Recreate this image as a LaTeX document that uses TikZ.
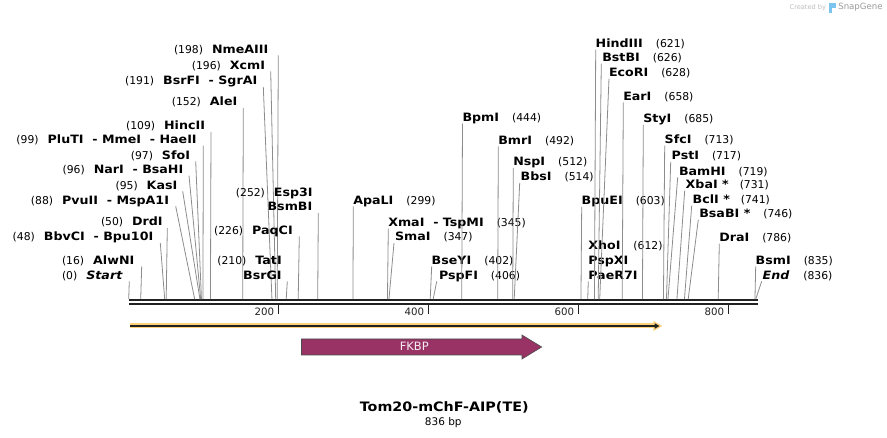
\documentclass[tikz,border=0pt]{standalone}
\usepackage{fontspec}
\setmainfont{DejaVu Sans}
\newfontfamily\enzfont[FakeStretch=1.1]{DejaVu Sans}
\usetikzlibrary{arrows.meta}

\definecolor{cutgray}{HTML}{8C8C8C}
\definecolor{bardark}{HTML}{222222}
\definecolor{fkbpcol}{HTML}{993366}
\definecolor{orfhalo}{HTML}{FFD27A}
\definecolor{creditgray}{HTML}{BDBDBD}
\definecolor{snapblue}{HTML}{7CC4F0}

\newcommand{\pnum}[1]{{\fontsize{10.8}{14}\selectfont(#1)}}
\newcommand{\enz}[1]{{\enzfont\bfseries\fontsize{11.5}{14}\selectfont #1}}

\tikzset{
  lab/.style={inner sep=0pt, outer sep=0pt},
  cut/.style={draw=cutgray, line width=0.8pt},
  bar/.style={draw=bardark, line width=2.3pt},
  tick/.style={draw=bardark, line width=1.3pt},
  ticklab/.style={inner sep=0pt, text=bardark, font=\fontsize{10.2}{12}\selectfont},
}

\begin{document}
\begin{tikzpicture}[x=1pt,y=-1pt]
\useasboundingbox (0,0) rectangle (887,438);

% sites on the sequence
\foreach \p in {0,16,48,50,88,95,96,97,99,109,152,191,196,198,210,226,252,299,345,347,402,406,444,492,512,514,603,612,621,626,628,658,685,713,717,719,731,741,746,786,835,836}
  \coordinate (p\p) at ({128.7+0.75*\p},299.2);

% sequence bar
\coordinate (barL) at (129,300.3);
\coordinate (barR) at (757.5,300.3);
\draw[bar] (barL) -- (barR);
\draw[bar] ([yshift=-4pt]barL) -- ([yshift=-4pt]barR);
\foreach \t in {200,400,600,800} {
  \coordinate (t\t) at ({128.7+0.75*\t},305.5);
  \draw[tick] (t\t) -- ++(0,8.5);
  \node[ticklab, anchor=east] (tl\t) at ([xshift=-4.4pt,yshift=-6.5pt]t\t) {\t};
}

% left hand labels
\node[lab, anchor=base east] (NmeAIII) at (268.3,53.3) {\pnum{198}\hspace{9pt}\enz{NmeAIII}};
\draw[cut] ([xshift=10pt,yshift=-2pt]NmeAIII.base east) -- (p198);
\node[lab, anchor=base east] (XcmI) at (265,69.3) {\pnum{196}\hspace{9pt}\enz{XcmI}};
\draw[cut] ([xshift=5.7pt,yshift=-2pt]XcmI.base east) -- (p196);
\node[lab, anchor=base east] (BsrFI) at (257.3,85) {\pnum{191}\hspace{9pt}\enz{BsrFI\ \ -\ SgrAI}};
\draw[cut] ([xshift=6pt,yshift=-2pt]BsrFI.base east) -- (p191);
\node[lab, anchor=base east] (AleI) at (237.3,106) {\pnum{152}\hspace{9pt}\enz{AleI}};
\draw[cut] ([xshift=6pt,yshift=-2pt]AleI.base east) -- (p152);
\node[lab, anchor=base east] (HincII) at (205,130) {\pnum{109}\hspace{9pt}\enz{HincII}};
\draw[cut] ([xshift=6pt,yshift=-2pt]HincII.base east) -- (p109);
\node[lab, anchor=base east] (PluTI) at (196.7,143.6) {\pnum{99}\hspace{9pt}\enz{PluTI\ \ -\ MmeI\ \ -\ HaeII}};
\draw[cut] ([xshift=6.6pt,yshift=-2pt]PluTI.base east) -- (p99);
\node[lab, anchor=base east] (SfoI) at (190,159.3) {\pnum{97}\hspace{9pt}\enz{SfoI}};
\draw[cut] ([xshift=5.7pt,yshift=-2pt]SfoI.base east) -- (p97);
\node[lab, anchor=base east] (NarI) at (183.3,173.6) {\pnum{96}\hspace{9pt}\enz{NarI\ \ -\ BsaHI}};
\draw[cut] ([xshift=5.7pt,yshift=-2pt]NarI.base east) -- (p96);
\node[lab, anchor=base east] (KasI) at (177.3,189.3) {\pnum{95}\hspace{9pt}\enz{KasI}};
\draw[cut] ([xshift=5.4pt,yshift=-2pt]KasI.base east) -- (p95);
\node[lab, anchor=base east] (PvuII) at (169,204.3) {\pnum{88}\hspace{9pt}\enz{PvuII\ \ -\ MspA1I}};
\draw[cut] ([xshift=6.7pt,yshift=-2pt]PvuII.base east) -- (p88);
\node[lab, anchor=base east] (DrdI) at (162.7,226) {\pnum{50}\hspace{9pt}\enz{DrdI}};
\draw[cut] ([xshift=4.6pt,yshift=-2pt]DrdI.base east) -- (p50);
\node[lab, anchor=base east] (BbvCI) at (153.3,241) {\pnum{48}\hspace{9pt}\enz{BbvCI\ \ -\ Bpu10I}};
\draw[cut] ([xshift=7pt,yshift=-2pt]BbvCI.base east) -- (p48);
\node[lab, anchor=base east] (AlwNI) at (134.3,264.3) {\pnum{16}\hspace{9pt}\enz{AlwNI}};
\draw[cut] ([xshift=7.4pt,yshift=-2pt]AlwNI.base east) -- (p16);
\node[lab, anchor=base east] (Start) at (122.3,279.3) {\pnum{0}\hspace{9pt}\enz{\itshape Start}};
\draw[cut] ([xshift=7pt,yshift=-2pt]Start.base east) -- (p0);
\node[lab, anchor=base east] (Esp3I) at (312.7,196.6) {\pnum{252}\hspace{9pt}\enz{Esp3I}};
\node[lab, anchor=base east] (BsmBI) at (312.3,211) {\enz{BsmBI}};
\draw[cut] ([xshift=6pt,yshift=-2pt]BsmBI.base east) -- (p252);
\node[lab, anchor=base east] (PaqCI) at (292.7,234.3) {\pnum{226}\hspace{9pt}\enz{PaqCI}};
\draw[cut] ([xshift=6.6pt,yshift=-2pt]PaqCI.base east) -- (p226);
\node[lab, anchor=base east] (TatI) at (281.7,264.3) {\pnum{210}\hspace{9pt}\enz{TatI}};
\node[lab, anchor=base east] (BsrGI) at (281.7,279.3) {\enz{BsrGI}};
\draw[cut] ([xshift=5.6pt,yshift=-2pt]BsrGI.base east) -- (p210);

% right hand labels
\node[lab, anchor=base west] (ApaLI) at (353.3,204.3) {\enz{ApaLI}\hspace{13pt}\pnum{299}};
\draw[cut] ([yshift=-2pt]ApaLI.base west) -- (p299);
\node[lab, anchor=base west] (XmaI) at (388.3,226.6) {\enz{XmaI\ \ -\ TspMI}\hspace{13pt}\pnum{345}};
\draw[cut] ([yshift=-2pt]XmaI.base west) -- (p345);
\node[lab, anchor=base west] (SmaI) at (395,241) {\enz{SmaI}\hspace{13pt}\pnum{347}};
\draw[cut] ([xshift=-1pt,yshift=-2pt]SmaI.base west) -- (p347);
\node[lab, anchor=base west] (BseYI) at (431.7,264.3) {\enz{BseYI}\hspace{13pt}\pnum{402}};
\draw[cut] ([yshift=-2pt]BseYI.base west) -- (p402);
\node[lab, anchor=base west] (PspFI) at (439,279.3) {\enz{PspFI}\hspace{13pt}\pnum{406}};
\draw[cut] ([xshift=-2.3pt,yshift=-2pt]PspFI.base west) -- (p406);
\node[lab, anchor=base west] (BpmI) at (462.5,121.6) {\enz{BpmI}\hspace{13pt}\pnum{444}};
\draw[cut] ([yshift=-2pt]BpmI.base west) -- (p444);
\node[lab, anchor=base west] (BmrI) at (498.3,144.3) {\enz{BmrI}\hspace{13pt}\pnum{492}};
\draw[cut] ([yshift=-2pt]BmrI.base west) -- (p492);
\node[lab, anchor=base west] (NspI) at (513.3,166) {\enz{NspI}\hspace{13pt}\pnum{512}};
\draw[cut] ([yshift=-2pt]NspI.base west) -- (p512);
\node[lab, anchor=base west] (BbsI) at (520.7,181) {\enz{BbsI}\hspace{13pt}\pnum{514}};
\draw[cut] ([xshift=-1pt,yshift=-2pt]BbsI.base west) -- (p514);
\node[lab, anchor=base west] (BpuEI) at (581.7,205) {\enz{BpuEI}\hspace{13pt}\pnum{603}};
\draw[cut] ([yshift=-2pt]BpuEI.base west) -- (p603);
\node[lab, anchor=base west] (XhoI) at (588.3,249.3) {\enz{XhoI}\hspace{13pt}\pnum{612}};
\node[lab, anchor=base west] (PspXI) at (588.3,264.3) {\enz{PspXI}};
\node[lab, anchor=base west] (PaeR7I) at (588.3,279.3) {\enz{PaeR7I}};
\draw[cut] ([yshift=-2pt]PaeR7I.base west) -- (p612);
\node[lab, anchor=base west] (HindIII) at (595.7,47.6) {\enz{HindIII}\hspace{13pt}\pnum{621}};
\draw[cut] ([yshift=-2pt]HindIII.base west) -- (p621);
\node[lab, anchor=base west] (BstBI) at (602.3,61.6) {\enz{BstBI}\hspace{13pt}\pnum{626}};
\draw[cut] ([xshift=-1pt,yshift=-2pt]BstBI.base west) -- (p626);
\node[lab, anchor=base west] (EcoRI) at (609,76.6) {\enz{EcoRI}\hspace{13pt}\pnum{628}};
\draw[cut] ([yshift=-2pt]EcoRI.base west) -- (p628);
\node[lab, anchor=base west] (EarI) at (623.3,100.3) {\enz{EarI}\hspace{13pt}\pnum{658}};
\draw[cut] ([yshift=-2pt]EarI.base west) -- (p658);
\node[lab, anchor=base west] (StyI) at (643.3,122.6) {\enz{StyI}\hspace{13pt}\pnum{685}};
\draw[cut] ([yshift=-2pt]StyI.base west) -- (p685);
\node[lab, anchor=base west] (SfcI) at (664.7,143.6) {\enz{SfcI}\hspace{13pt}\pnum{713}};
\draw[cut] ([yshift=-2pt]SfcI.base west) -- (p713);
\node[lab, anchor=base west] (PstI) at (671.7,160) {\enz{PstI}\hspace{13pt}\pnum{717}};
\draw[cut] ([xshift=-1pt,yshift=-2pt]PstI.base west) -- (p717);
\node[lab, anchor=base west] (BamHI) at (679,175.3) {\enz{BamHI}\hspace{13pt}\pnum{719}};
\draw[cut] ([xshift=-1.3pt,yshift=-2pt]BamHI.base west) -- (p719);
\node[lab, anchor=base west] (XbaI) at (685.7,188.6) {\enz{XbaI *}\hspace{11pt}\pnum{731}};
\draw[cut] ([xshift=-1pt,yshift=-2pt]XbaI.base west) -- (p731);
\node[lab, anchor=base west] (BclI) at (692.7,203.6) {\enz{BclI *}\hspace{11pt}\pnum{741}};
\draw[cut] ([xshift=-1pt,yshift=-2pt]BclI.base west) -- (p741);
\node[lab, anchor=base west] (BsaBI) at (699.3,217.6) {\enz{BsaBI *}\hspace{13pt}\pnum{746}};
\draw[cut] ([xshift=-1pt,yshift=-2pt]BsaBI.base west) -- (p746);
\node[lab, anchor=base west] (DraI) at (719.3,241.6) {\enz{DraI}\hspace{13pt}\pnum{786}};
\draw[cut] ([yshift=-2pt]DraI.base west) -- (p786);
\node[lab, anchor=base west] (BsmI) at (755.7,264.3) {\enz{BsmI}\hspace{13pt}\pnum{835}};
\draw[cut] ([yshift=-2pt]BsmI.base west) -- (p835);
\node[lab, anchor=base west] (End) at (762.7,279.3) {\enz{\itshape End}\hspace{14pt}\pnum{836}};
\draw[cut] ([xshift=-1pt,yshift=-2pt]End.base west) -- (p836);

% features
\coordinate (orfS) at (130,326);
\coordinate (orfE) at (661,326);
\draw[orfhalo, line width=5pt] (orfS) -- ([xshift=-3pt]orfE);
\fill[bardark, draw=orfhalo, line width=1.2pt] (orfE) -- ++(-7,-4) -- ++(0,8) -- cycle;
\draw[bardark, line width=1.1pt] (orfS) -- ([xshift=-5pt]orfE);

\fill[fkbpcol, draw=black!70, line width=0.6pt] (301.5,339) -- (522,339) -- (522,335) -- (541.7,347) -- (522,359) -- (522,355) -- (301.5,355) -- cycle;
\node[lab, text=white!90!fkbpcol, font=\fontsize{11.5}{13}\selectfont] (FKBP) at (414.3,346.6) {FKBP};

% title
\node[lab, font=\enzfont\bfseries\fontsize{13}{15}\selectfont] (title) at (444.2,407.3) {Tom20-mChF-AIP(TE)};
\node[lab, font=\fontsize{10.5}{12}\selectfont] (size) at (443.3,422.3) {836 bp};

% credit
\node[lab, text=creditgray, font=\fontsize{6.6}{8}\selectfont, anchor=east] (credit) at (826,7.3) {Created by};
\fill[snapblue] (829,3) rectangle (832,13);
\fill[snapblue] (832,3) rectangle (835.5,8.5);
\node[lab, text=black!40, font=\fontsize{8.6}{10}\selectfont, anchor=west] (snapgene) at (838.3,7.3) {SnapGene};
\end{tikzpicture}
\end{document}
